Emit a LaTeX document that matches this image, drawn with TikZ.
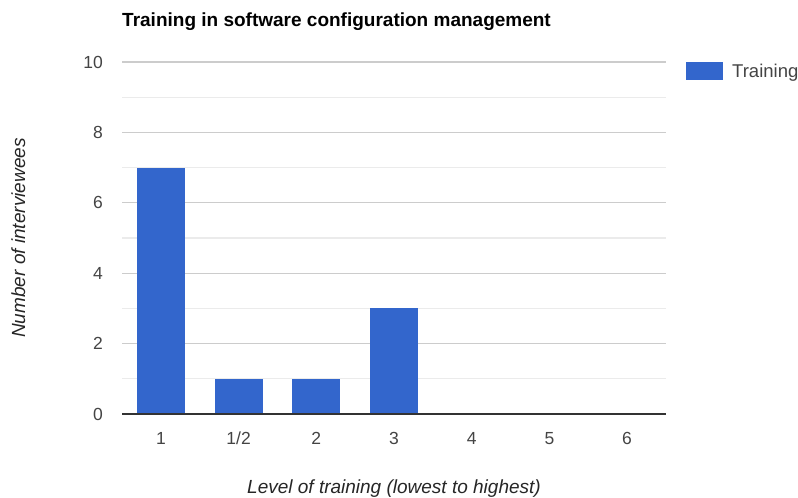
\documentclass[tikz,border=0pt]{standalone}
\usepackage{fontspec}
\setmainfont{Liberation Sans}
\definecolor{barblue}{HTML}{3366CC}
\definecolor{ticktext}{HTML}{444444}
\definecolor{majorgrid}{HTML}{CCCCCC}
\definecolor{minorgrid}{HTML}{EBEBEB}
\definecolor{axisline}{HTML}{333333}
\definecolor{zerobar}{HTML}{E3E9F5}
\begin{document}
\begin{tikzpicture}[x=1pt,y=-1pt,
  bar/.style={fill=barblue,draw=none},
  majorline/.style={draw=majorgrid,line width=1.2pt},
  minorline/.style={draw=minorgrid,line width=1.2pt},
  ticklab/.style={text=ticktext,font=\fontsize{17.5}{20}\selectfont,inner sep=0pt},
  axtitle/.style={text=black!85,font=\fontsize{19}{22}\selectfont\itshape,inner sep=0pt},
]
\useasboundingbox[fill=white] (0,0) rectangle (798,498);
% gridlines
\foreach \v in {1,3,5,7,9} \draw[minorline] (122,{414-35.2*\v}) -- (666,{414-35.2*\v});
\foreach \v in {2,4,6,8,10} \draw[majorline] (122,{414-35.2*\v}) -- (666,{414-35.2*\v});
% y tick labels
\foreach \v in {0,2,4,6,8,10} \node[ticklab,anchor=east] (yl\v) at (103,{414-35.2*\v}) {\v};
% bars
\foreach \c/\val/\lab [count=\i from 0] in {1/7/1,2/1/1\slash 2,3/1/2,4/3/3,5/0/4,6/0/5,7/0/6}{
  \pgfmathsetmacro{\xc}{160.9+77.7*\i}
  \ifnum\val>0
    \fill[bar] ({\xc-24},414) rectangle ({\xc+24},{414-35.2*\val});
  \else
    \fill[zerobar] ({\xc-24},414) rectangle ({\xc+24},413);
  \fi
  \node[ticklab,anchor=base] (xl\c) at (\xc,444) {\lab};
}
% axis baseline
\draw[axisline,line width=1.2pt] (122,414) -- (666,414);
% title
\node[anchor=base west,inner sep=0pt,font=\fontsize{19}{22}\selectfont\bfseries] (title) at (122,26) {Training in software configuration management};
% axis titles
\node[axtitle,anchor=base] (xtitle) at (394,493) {Level of training (lowest to highest)};
\node[axtitle,anchor=base,rotate=90] (ytitle) at (25,238) {Number of interviewees};
% legend
\fill[barblue] (686,62) rectangle (723,80);
\node[ticklab,anchor=base west,text=ticktext,font=\fontsize{18.5}{22}\selectfont] (legend) at (732,77) {Training};
\end{tikzpicture}
\end{document}
